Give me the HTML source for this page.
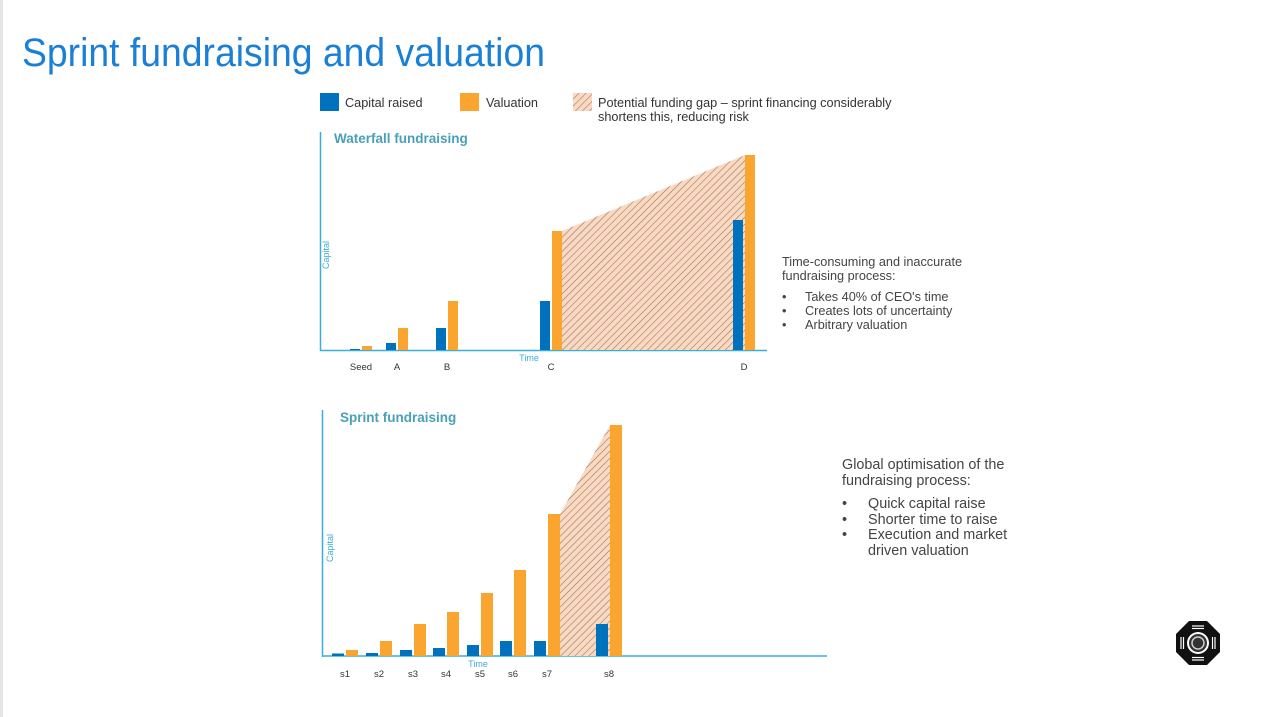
<!DOCTYPE html>
<html><head><meta charset="utf-8"><style>
html,body{margin:0;padding:0;background:#fff;}
svg{display:block;font-family:"Liberation Sans",sans-serif;}
</style></head><body>
<svg id="s" width="1276" height="717" viewBox="0 0 1276 717">
<defs>
<pattern id="hatch" patternUnits="userSpaceOnUse" width="5" height="5" patternTransform="rotate(45)">
<rect width="5" height="5" fill="#fbd8c0"/>
<line x1="0" y1="0" x2="0" y2="5" stroke="#8c7466" stroke-width="1.1"/>
</pattern>
</defs>
<rect x="0" y="0" width="3" height="717" fill="#e6e6e6"/>
<text x="22" y="66" font-size="40" fill="#1a7fd6" textLength="523" lengthAdjust="spacingAndGlyphs">Sprint fundraising and valuation</text>

<g>
<rect x="320" y="93" width="19" height="18" fill="#0071bc"/>
<text x="345" y="107" font-size="12.7" fill="#333">Capital raised</text>
<rect x="460" y="93" width="19" height="18" fill="#f9a52f"/>
<text x="486" y="107" font-size="12.7" fill="#333">Valuation</text>
<rect x="573" y="93" width="19" height="18" fill="url(#hatch)"/>
<text x="598" y="107" font-size="12.7" fill="#333">Potential funding gap – sprint financing considerably</text>
<text x="598" y="121" font-size="12.7" fill="#333">shortens this, reducing risk</text>
</g>

<g id="top">
<text x="334" y="143" font-size="13.5" font-weight="bold" fill="#4aa0b8">Waterfall fundraising</text>
<line x1="320.5" y1="132" x2="320.5" y2="351" stroke="#3aaed8" stroke-width="1.5"/>
<line x1="320" y1="350.5" x2="767" y2="350.5" stroke="#3aaed8" stroke-width="1.5"/>
<text x="329" y="255" font-size="9" fill="#3aaed8" text-anchor="middle" transform="rotate(-90 329 255)">Capital</text>
<text x="529" y="361" font-size="9" fill="#3aaed8" text-anchor="middle">Time</text>
</g>

<g id="bot">
<text x="340" y="422" font-size="13.5" font-weight="bold" fill="#4aa0b8">Sprint fundraising</text>
<line x1="322.5" y1="410" x2="322.5" y2="657" stroke="#3aaed8" stroke-width="1.5"/>
<line x1="322" y1="656" x2="827" y2="656" stroke="#3aaed8" stroke-width="1.5"/>
<text x="333" y="548" font-size="9" fill="#3aaed8" text-anchor="middle" transform="rotate(-90 333 548)">Capital</text>
<text x="478" y="667" font-size="9" fill="#3aaed8" text-anchor="middle">Time</text>
</g>

<g font-size="12.7" fill="#444">
<text x="782" y="266">Time-consuming and inaccurate</text>
<text x="782" y="280">fundraising process:</text>
<text x="782" y="301">•</text><text x="805" y="301">Takes 40% of CEO's time</text>
<text x="782" y="315">•</text><text x="805" y="315">Creates lots of uncertainty</text>
<text x="782" y="329">•</text><text x="805" y="329">Arbitrary valuation</text>
</g>
<g font-size="14.4" fill="#444">
<text x="842" y="469">Global optimisation of the</text>
<text x="842" y="485">fundraising process:</text>
<text x="842" y="508">•</text><text x="868" y="508">Quick capital raise</text>
<text x="842" y="524">•</text><text x="868" y="524">Shorter time to raise</text>
<text x="842" y="539">•</text><text x="868" y="539">Execution and market</text>
<text x="868" y="555">driven valuation</text>
</g>

<g transform="translate(1198,643)">
<polygon points="-9,-22 9,-22 22,-9 22,9 9,22 -9,22 -22,9 -22,-9" fill="#111"/>
<circle r="11" fill="#fff"/>
<circle r="9" fill="#333"/>
<circle r="6" fill="none" stroke="#ccc" stroke-width="1.5"/>
<g stroke="#fff" stroke-width="1.2">
<line x1="-6" y1="-17" x2="6" y2="-17"/><line x1="-6" y1="-14.5" x2="6" y2="-14.5"/>
<line x1="-6" y1="17" x2="6" y2="17"/><line x1="-6" y1="14.5" x2="6" y2="14.5"/>
<line x1="-17" y1="-6" x2="-17" y2="6"/><line x1="-14.5" y1="-6" x2="-14.5" y2="6"/>
<line x1="17" y1="-6" x2="17" y2="6"/><line x1="14.5" y1="-6" x2="14.5" y2="6"/>
</g>
</g>
</svg>
<script>
// Waterfall data
const wfCategories = ["Seed","A","B","C","D"];
const wfCapital = [1, 7, 22, 49, 130];
const wfValuation = [4, 22, 49, 119, 195];
// Sprint data
const spCategories = ["s1","s2","s3","s4","s5","s6","s7","s8"];
const spCapital = [2.5, 3, 6, 8, 11, 15, 15, 32];
const spValuation = [6, 15, 32, 44, 63, 86, 142, 231];

const NS = "http://www.w3.org/2000/svg";
function mk(tag, attrs, parent){const e=document.createElementNS(NS,tag);for(const k in attrs)e.setAttribute(k,attrs[k]);parent.appendChild(e);return e;}

const wfBase = 350, wfMax = 218, wfTop = 132;
function wfY(v){return wfBase - v/wfMax*(wfBase-wfTop);}
const wfPos = [361, 397, 447, 551, 744];
function wfX(i){return wfPos[i];}
const spBase = 656, spMax = 246, spTop = 410;
function spY(v){return spBase - v/spMax*(spBase-spTop);}
const spPos = [345, 379, 413, 446, 480, 513, 547, 609];
function spX(i){return spPos[i];}

function drawChart(g, cats, cap, val, X, Y, base, bw, gap, labelY, pfx, gapFrom, gapTo){
  const xa = X(gapFrom)+gap/2+bw, xb = X(gapTo)+gap/2;
  const poly = mk("polygon",{points:`${xa},${Y(val[gapFrom])} ${xb},${Y(val[gapTo])} ${xb},${base} ${xa},${base}`,fill:"url(#hatch)"},g);
  
  
  cats.forEach((c,i)=>{
    const cx = X(i);
    const b = mk("rect",{x:cx-gap/2-bw,y:Y(cap[i]),width:bw,height:base-Y(cap[i]),fill:"#0071bc"},g);
    
    
    const o = mk("rect",{x:cx+gap/2,y:Y(val[i]),width:bw,height:base-Y(val[i]),fill:"#f9a52f"},g);
    
    
    const t = mk("text",{x:cx,y:labelY,"font-size":9.5,fill:"#333","text-anchor":"middle"},g);
    t.textContent = c;
    
    
  });
}
drawChart(document.getElementById("top"), wfCategories, wfCapital, wfValuation, wfX, wfY, wfBase, 10, 2, 370, "waterfall", 3, 4);
drawChart(document.getElementById("bot"), spCategories, spCapital, spValuation, spX, spY, spBase, 12, 2, 677, "sprint", 6, 7);
</script>
</body></html>
